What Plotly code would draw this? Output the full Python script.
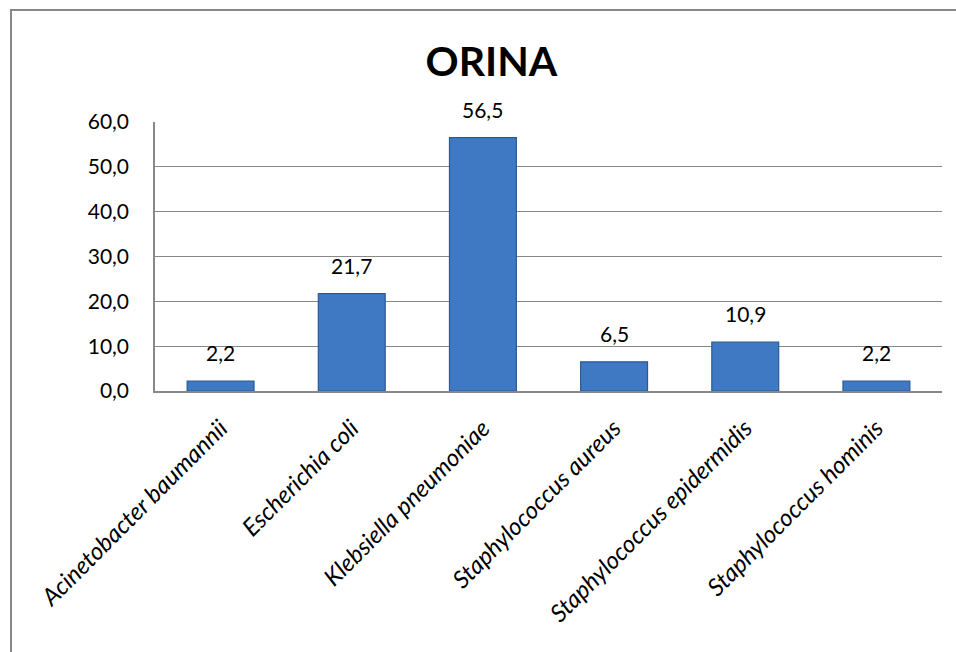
import plotly.graph_objects as go

categories = ["Acinetobacter baumannii", "Escherichia coli", "Klebsiella pneumoniae",
              "Staphylococcus aureus", "Staphylococcus epidermidis", "Staphylococcus hominis"]
values = [2.2, 21.7, 56.5, 6.5, 10.9, 2.2]
y_ticks = [0, 10, 20, 30, 40, 50, 60]
title_text = "ORINA"

FONT = "Lato, Open Sans, sans-serif"

fig = go.Figure()
fig.add_trace(go.Bar(
    x=categories, y=values,
    marker=dict(color="#3F78C3", line=dict(color="#2B5A94", width=1.2)),
    hoverinfo="skip",
))

for c, v in zip(categories, values):
    fig.add_annotation(x=c, y=v, text=f"{v:.1f}".replace(".", ","),
                       showarrow=False, yanchor="bottom", yshift=14,
                       font=dict(family=FONT, size=21, color="#000000"))

fig.update_layout(
    width=956, height=652,
    margin=dict(l=155, r=14, t=122, b=261),
    paper_bgcolor="white", plot_bgcolor="white",
    separators=",.",
    showlegend=False,
    bargap=0.49,
    font=dict(family=FONT, color="#000000"),
    title=dict(text="<b>" + title_text + "</b>", x=0.514, xanchor="center",
               y=1 - 62 / 652, yanchor="middle", yref="container",
               font=dict(family=FONT, size=41, color="#000000")),
    xaxis=dict(
        tickangle=-45, ticks="outside", ticklen=12, tickcolor="rgba(0,0,0,0)",
        tickfont=dict(family=FONT, size=24, style="italic", color="#000000"),
        showline=True, linecolor="#888888", linewidth=1.5, showgrid=False,
    ),
    yaxis=dict(
        range=[0, 60], tickvals=y_ticks, tickformat=".1f",
        tickfont=dict(family=FONT, size=21, color="#000000"),
        showgrid=True, gridcolor="#888888", gridwidth=1.2,
        showline=True, linecolor="#888888", linewidth=1.5,
        ticks="outside", ticklen=20, tickcolor="rgba(0,0,0,0)",
        zeroline=False,
    ),
    shapes=[dict(type="rect", xref="paper", yref="paper",
                 x0=(11 - 155) / 787, x1=1.1, y0=-1.5, y1=(391 - 10) / 269,
                 line=dict(color="#888888", width=2), fillcolor="rgba(0,0,0,0)",
                 layer="below")],
)

fig.write_html("out.html")
